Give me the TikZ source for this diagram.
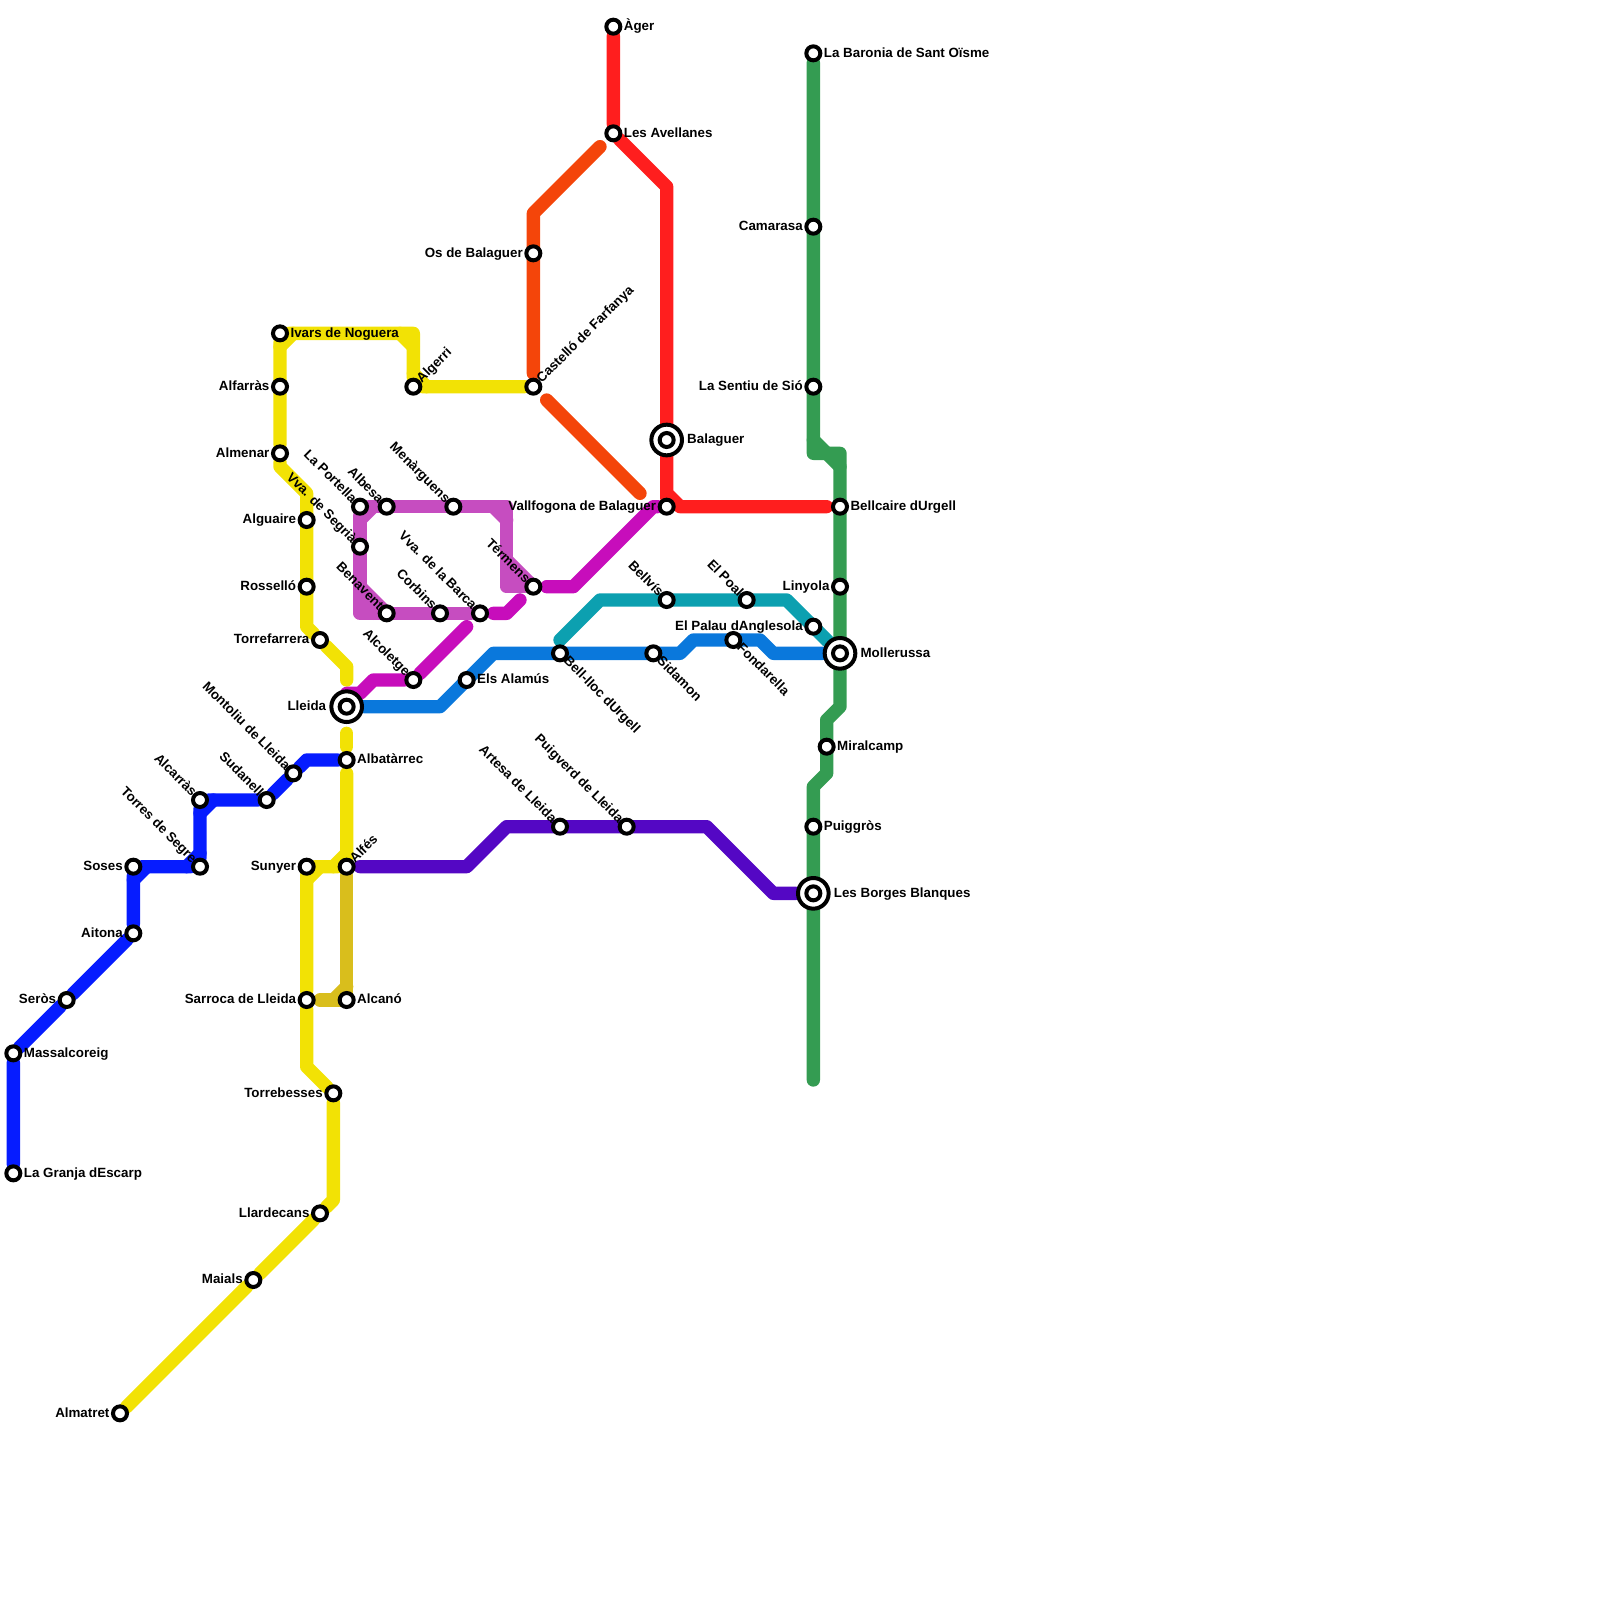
\documentclass[tikz,border=0pt]{standalone}
\usepackage{fontspec}
\setmainfont{Liberation Sans}
\usepackage{xcolor}
\usetikzlibrary{backgrounds,calc}
\definecolor{ablue}{HTML}{061CFF}
\definecolor{ayellow}{HTML}{F2E205}
\definecolor{agold}{HTML}{D9BE1C}
\definecolor{aorange}{HTML}{F4450A}
\definecolor{ared}{HTML}{FF1E1E}
\definecolor{amagenta}{HTML}{C70DBB}
\definecolor{alilac}{HTML}{C64DC0}
\definecolor{acyan}{HTML}{0CA0B0}
\definecolor{asky}{HTML}{0A78DC}
\definecolor{agreen}{HTML}{349C52}
\definecolor{apurple}{HTML}{5407C4}
\begin{document}
\begin{tikzpicture}[
  x=.4cm,y=-.4cm,
  station/.style={circle,draw,fill=white,line width=.12cm,minimum size=.42cm,inner sep=0pt},
  hubring/.style={circle,draw,fill=white,line width=.12cm,minimum size=.92cm,inner sep=0pt},
  lbl/.style={font=\fontsize{11.4}{12}\selectfont\bfseries,inner sep=0pt,text height=1.5ex,text depth=.25ex},
  toE/.style={lbl,anchor=west,xshift=.31cm},
  toW/.style={lbl,anchor=east,xshift=-.31cm},
  hubE/.style={lbl,anchor=west,xshift=.61cm},
  hubW/.style={lbl,anchor=east,xshift=-.61cm},
  toNE/.style={lbl,anchor=west,xshift=.17cm,yshift=.17cm,rotate=45},
  toNW/.style={lbl,anchor=east,xshift=-.17cm,yshift=.17cm,rotate=-45},
  toSE/.style={lbl,anchor=west,xshift=.17cm,yshift=-.17cm,rotate=-45},
  metro/.style={line width=.4cm,line cap=round,line join=round}]
\useasboundingbox (0,0) rectangle (120,120);
% blue
\node[station] (granja) at (1,88) {}; \node[toE] (granja-t) at (granja) {La Granja dEscarp};
\node[station] (massal) at (1,79) {}; \node[toE] (massal-t) at (massal) {Massalcoreig};
\node[station] (seros) at (5,75) {}; \node[toW] (seros-t) at (seros) {Seròs};
\node[station] (aitona) at (10,70) {}; \node[toW] (aitona-t) at (aitona) {Aitona};
\node[station] (soses) at (10,65) {}; \node[toW] (soses-t) at (soses) {Soses};
\node[station] (torres) at (15,65) {}; \node[toNW] (torres-t) at (torres) {Torres de Segre};
\node[station] (alcarras) at (15,60) {}; \node[toNW] (alcarras-t) at (alcarras) {Alcarràs};
\node[station] (sudanell) at (20,60) {}; \node[toNW] (sudanell-t) at (sudanell) {Sudanell};
\node[station] (montoliu) at (22,58) {}; \node[toNW] (montoliu-t) at (montoliu) {Montoliu de Lleida};
\node[station] (albatarrec) at (26,57) {}; \node[toE] (albatarrec-t) at (albatarrec) {Albatàrrec};
% yellow
\node[station] (almatret) at (9,106) {}; \node[toW] (almatret-t) at (almatret) {Almatret};
\node[station] (maials) at (19,96) {}; \node[toW] (maials-t) at (maials) {Maials};
\node[station] (llardecans) at (24,91) {}; \node[toW] (llardecans-t) at (llardecans) {Llardecans};
\node[station] (torrebesses) at (25,82) {}; \node[toW] (torrebesses-t) at (torrebesses) {Torrebesses};
\node[station] (sarroca) at (23,75) {}; \node[toW] (sarroca-t) at (sarroca) {Sarroca de Lleida};
\node[station] (sunyer) at (23,65) {}; \node[toW] (sunyer-t) at (sunyer) {Sunyer};
\node[station] (alfes) at (26,65) {}; \node[toNE] (alfes-t) at (alfes) {Alfés};
\node[station] (alcano) at (26,75) {}; \node[toE] (alcano-t) at (alcano) {Alcanó};
\node[station] (torrefarrera) at (24,48) {}; \node[toW] (torrefarrera-t) at (torrefarrera) {Torrefarrera};
\node[station] (rossello) at (23,44) {}; \node[toW] (rossello-t) at (rossello) {Rosselló};
\node[station] (alguaire) at (23,39) {}; \node[toW] (alguaire-t) at (alguaire) {Alguaire};
\node[station] (almenar) at (21,34) {}; \node[toW] (almenar-t) at (almenar) {Almenar};
\node[station] (alfarras) at (21,29) {}; \node[toW] (alfarras-t) at (alfarras) {Alfarràs};
\node[station] (ivars) at (21,25) {}; \node[toE] (ivars-t) at (ivars) {Ivars de Noguera};
\node[station] (algerri) at (31,29) {}; \node[toNE] (algerri-t) at (algerri) {Algerri};
\node[station] (castello) at (40,29) {}; \node[toNE] (castello-t) at (castello) {Castelló de Farfanya};
% orange, red
\node[station] (os) at (40,19) {}; \node[toW] (os-t) at (os) {Os de Balaguer};
\node[station] (ager) at (46,2) {}; \node[toE] (ager-t) at (ager) {Àger};
\node[station] (avellanes) at (46,10) {}; \node[toE] (avellanes-t) at (avellanes) {Les Avellanes};
\node[hubring] (balaguer) at (50,33) {}; \node[station] (balaguer-c) at (balaguer) {}; \node[hubE] (balaguer-t) at (balaguer) {Balaguer};
\node[station] (vallfogona) at (50,38) {}; \node[toW] (vallfogona-t) at (vallfogona) {Vallfogona de Balaguer};
% lilac, magenta
\node[station] (portella) at (27,38) {}; \node[toNW] (portella-t) at (portella) {La Portella};
\node[station] (albesa) at (29,38) {}; \node[toNW] (albesa-t) at (albesa) {Albesa};
\node[station] (menarguens) at (34,38) {}; \node[toNW] (menarguens-t) at (menarguens) {Menàrguens};
\node[station] (segria) at (27,41) {}; \node[toNW] (segria-t) at (segria) {Vva. de Segrià};
\node[station] (benavent) at (29,46) {}; \node[toNW] (benavent-t) at (benavent) {Benavent};
\node[station] (corbins) at (33,46) {}; \node[toNW] (corbins-t) at (corbins) {Corbins};
\node[station] (barca) at (36,46) {}; \node[toNW] (barca-t) at (barca) {Vva. de la Barca};
\node[station] (termens) at (40,44) {}; \node[toNW] (termens-t) at (termens) {Térmens};
\node[station] (alcoletge) at (31,51) {}; \node[toNW] (alcoletge-t) at (alcoletge) {Alcoletge};
% sky, cyan
\node[hubring] (lleida) at (26,53) {}; \node[station] (lleida-c) at (lleida) {}; \node[hubW] (lleida-t) at (lleida) {Lleida};
\node[station] (alamus) at (35,51) {}; \node[toE] (alamus-t) at (alamus) {Els Alamús};
\node[station] (bellloc) at (42,49) {}; \node[toSE] (bellloc-t) at (bellloc) {Bell-lloc dUrgell};
\node[station] (sidamon) at (49,49) {}; \node[toSE] (sidamon-t) at (sidamon) {Sidamon};
\node[station] (fondarella) at (55,48) {}; \node[toSE] (fondarella-t) at (fondarella) {Fondarella};
\node[station] (bellvis) at (50,45) {}; \node[toNW] (bellvis-t) at (bellvis) {Bellvís};
\node[station] (poal) at (56,45) {}; \node[toNW] (poal-t) at (poal) {El Poal};
\node[station] (palau) at (61,47) {}; \node[toW] (palau-t) at (palau) {El Palau dAnglesola};
\node[hubring] (mollerussa) at (63,49) {}; \node[station] (mollerussa-c) at (mollerussa) {}; \node[hubE] (mollerussa-t) at (mollerussa) {Mollerussa};
% green
\node[station] (baronia) at (61,4) {}; \node[toE] (baronia-t) at (baronia) {La Baronia de Sant Oïsme};
\node[station] (camarasa) at (61,17) {}; \node[toW] (camarasa-t) at (camarasa) {Camarasa};
\node[station] (sentiu) at (61,29) {}; \node[toW] (sentiu-t) at (sentiu) {La Sentiu de Sió};
\node[station] (bellcaire) at (63,38) {}; \node[toE] (bellcaire-t) at (bellcaire) {Bellcaire dUrgell};
\node[station] (linyola) at (63,44) {}; \node[toW] (linyola-t) at (linyola) {Linyola};
\node[station] (miralcamp) at (62,56) {}; \node[toE] (miralcamp-t) at (miralcamp) {Miralcamp};
\node[station] (puiggros) at (61,62) {}; \node[toE] (puiggros-t) at (puiggros) {Puiggròs};
\node[hubring] (borges) at (61,67) {}; \node[station] (borges-c) at (borges) {}; \node[hubE] (borges-t) at (borges) {Les Borges Blanques};
% purple
\node[station] (artesa) at (42,62) {}; \node[toNW] (artesa-t) at (artesa) {Artesa de Lleida};
\node[station] (puigverd) at (47,62) {}; \node[toNW] (puigverd-t) at (puigverd) {Puigverd de Lleida};
% bends
\coordinate (b1) at (23,57); \coordinate (y1) at (26,58); \coordinate (y2) at (25,65); \coordinate (y3) at (23,80);
\coordinate (y4) at (25,90); \coordinate (y5) at (26,55); \coordinate (y6) at (26,56); \coordinate (y7) at (26,51);
\coordinate (y8) at (26,50); \coordinate (y9) at (23,47); \coordinate (y10) at (23,37); \coordinate (y11) at (21,35);
\coordinate (y12) at (31,25); \coordinate (y13) at (26,64);
\coordinate (o1) at (45,11); \coordinate (o2) at (40,16); \coordinate (o3) at (40,28); \coordinate (o4) at (41,30); \coordinate (o5) at (48,37);
\coordinate (r1) at (50,14); \coordinate (r2) at (62,38); \coordinate (r3) at (50,37); \coordinate (r4) at (51,38);
\coordinate (l1) at (38,44); \coordinate (l2) at (38,38); \coordinate (l3) at (27,46);
\coordinate (m1) at (26,52); \coordinate (m2) at (27,52); \coordinate (m3) at (28,51); \coordinate (m4) at (35,47);
\coordinate (m5) at (37,46); \coordinate (m6) at (38,46); \coordinate (m7) at (39,45);
\coordinate (m8) at (41,44); \coordinate (m9) at (43,44); \coordinate (m10) at (49,38);
\coordinate (s1) at (33,53); \coordinate (s2) at (37,49); \coordinate (s3) at (51,49); \coordinate (s4) at (52,48); \coordinate (s5) at (57,48); \coordinate (s6) at (58,49);
\coordinate (c1) at (42,48); \coordinate (c2) at (45,45); \coordinate (c3) at (59,45);
\coordinate (g1) at (61,34); \coordinate (g2) at (63,34); \coordinate (g3) at (63,53); \coordinate (g4) at (62,54); \coordinate (g5) at (62,58); \coordinate (g6) at (61,59); \coordinate (g7) at (61,81);
\coordinate (p1) at (27,65); \coordinate (p2) at (35,65); \coordinate (p3) at (38,62); \coordinate (p4) at (53,62); \coordinate (p5) at (58,67);
\coordinate (u1) at (26,75); \coordinate (u2) at (24,75);
\begin{scope}[on background layer]
\draw[metro,ablue] (granja)--(massal)--(seros)--(aitona)--(soses)--(torres)--(alcarras)--(sudanell)--(montoliu)--(b1)--(albatarrec);
\draw[metro,ablue] (soses) ++(0,1) -- ++(1,-1); \draw[metro,ablue] (torres) ++(-1,0) -- ++(1,-1); \draw[metro,ablue] (alcarras) ++(0,1) -- ++(1,-1);
\draw[metro,ayellow] (almatret)--(maials)--(llardecans)--(y4)--(torrebesses)--(y3)--(sarroca)--(sunyer)--(alfes)--(y1);
\draw[metro,ayellow] (sunyer) ++(0,1) -- ++(1,-1); \draw[metro,ayellow] (y2)--(y13);
\draw[metro,ayellow] (y5)--(y6);
\draw[metro,ayellow] (y7)--(y8)--(torrefarrera)--(y9)--(y10)--(y11)--(almenar)--(ivars)--(y12)--(algerri)--(castello);
\draw[metro,ayellow] (ivars) ++(0,1) -- ++(1,-1); \draw[metro,ayellow] (y12) ++(-1,0) -- ++(1,1); \draw[metro,ayellow] (algerri) ++(0,-1) -- ++(1,1);
\draw[metro,agold] (alfes)--(u1)--(u2); \draw[metro,agold] (u1) ++(-1,0) -- ++(1,-1);
\draw[metro,aorange] (o1)--(o2)--(o3); \draw[metro,aorange] (o4)--(o5);
\draw[metro,ared] (ager)--(avellanes)--(r1)--(r3)--(r4)--(r2); \draw[metro,ared] (r3)--(vallfogona);
\draw[metro,alilac] (termens)--(l1)--(l2)--(portella)--(l3)--(barca);
\draw[metro,alilac] (l1) ++(0,-2) -- ++(2,2); \draw[metro,alilac] (l1) ++(0,-1) -- ++(1,1); \draw[metro,alilac] (l2) ++(-1,0) -- ++(1,1);
\draw[metro,alilac] (portella) ++(0,1) -- ++(1,-1); \draw[metro,alilac] (l3) ++(0,-2) -- ++(2,2); \draw[metro,alilac] (l3) ++(0,-1) -- ++(1,1);
\draw[metro,amagenta] (m1)--(m2)--(m3)--(alcoletge)--(m4); \draw[metro,amagenta] (m5)--(m6)--(m7); \draw[metro,amagenta] (m8)--(m9)--(m10)--(vallfogona);
\draw[metro,agreen] (baronia)--(g1)--(g2)--(g3)--(g4)--(g5)--(g6)--(g7);
\draw[metro,agreen] (g1) ++(0,-1) -- ++(1,1); \draw[metro,agreen] (g2) ++(-1,0) -- ++(1,1);
\draw[metro,acyan] (c1)--(c2)--(c3)--(mollerussa);
\draw[metro,asky] (lleida)--(s1)--(s2)--(s3)--(s4)--(s5)--(s6)--(mollerussa);
\draw[metro,apurple] (p1)--(p2)--(p3)--(p4)--(p5)--(borges);
\end{scope}
\end{tikzpicture}
\end{document}
